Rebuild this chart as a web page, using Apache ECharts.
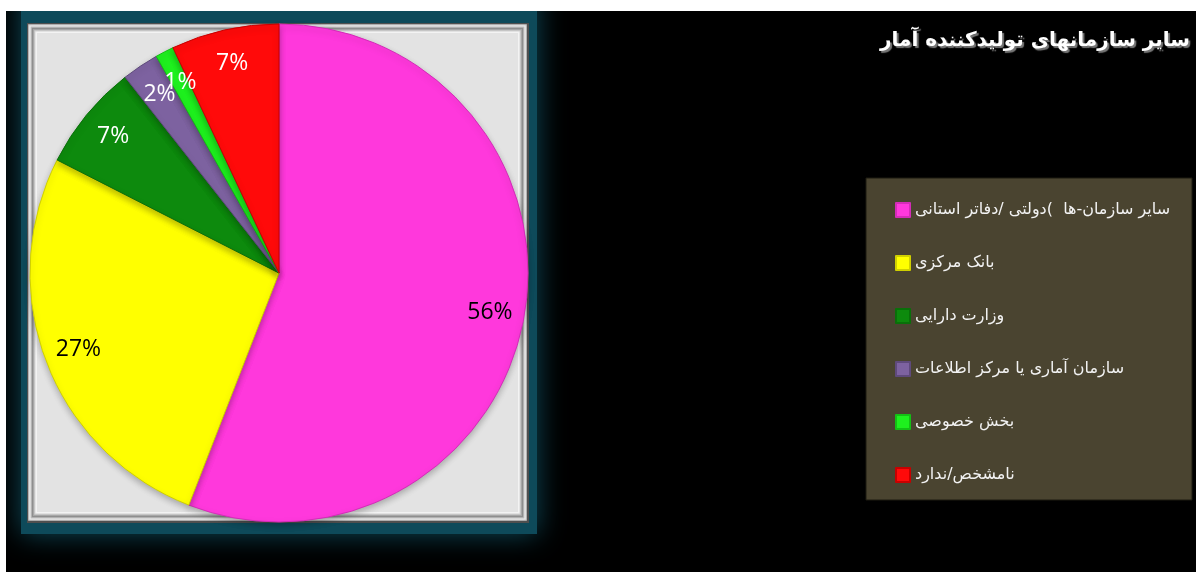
<!DOCTYPE html>
<html>
<head>
<meta charset="utf-8">
<script src="https://cdn.jsdelivr.net/npm/echarts@6/dist/echarts.min.js"></script>
<style>
  html, body { margin: 0; padding: 0; background: #fff; }
  #chart { position: absolute; left: 6px; top: 11px; width: 1190px; height: 561px; background: #000; }
</style>
</head>
<body>
<div id="chart"></div>
<script>
// داده‌ها
const categories = [
  'سایر سازمان-ها  )دولتی /دفاتر استانی',
  'بانک مرکزی ',
  'وزارت دارایی',
  'سازمان آماری یا مرکز اطلاعات',
  'بخش خصوصی',
  'نامشخص/ندارد'
];
const shares = [55.9, 26.6, 6.9, 2.4, 1.2, 7.0];
const titleText = 'سایر سازمانهای تولیدکننده آمار';

// رنگ‌ها
const sliceColors = ['#ff38dc', '#ffff00', '#0d8a0d', '#7d62a0', '#1ef01e', '#ff0a0a'];
const sliceBorders = ['#d42cb8', '#d0d000', '#097009', '#5f4a7c', '#14c014', '#c80000'];
const labelColors = ['#000', '#000', '#fff', '#fff', '#fff', '#fff'];

const chart = echarts.init(document.getElementById('chart'));

const pieCenter = [273, 262];
const pieRadius = 249;

// قاب خاکستری برجسته
const bevelColors = ['#4f4f4f', '#cdcdcd', '#eeeeee', '#bdbdbd', '#8e8e8e', '#a6a6a6', '#cfcfcf', '#f3f3f3'];
const frame = { x: 21, y: 12, w: 502, h: 500 };
const bevelRects = bevelColors.map((c, i) => ({
  type: 'rect',
  silent: true,
  z: -9,
  shape: { x: frame.x + i * 1.2, y: frame.y + i * 1.2, width: frame.w - i * 2.4 - (i === 0 ? 0 : 1), height: frame.h - i * 2.4 - (i === 0 ? 0 : 1) },
  style: { fill: c }
}));

const option = {
  backgroundColor: '#000',
  title: {
    text: titleText,
    right: 6,
    top: 20,
    padding: 0,
    textStyle: {
      fontFamily: 'DejaVu Sans',
      fontWeight: 'bold',
      fontSize: 20,
      color: '#ffffff',
      textShadowColor: '#777',
      textShadowOffsetX: 2,
      textShadowOffsetY: 2,
      textShadowBlur: 1
    }
  },
  graphic: [
    {
      type: 'rect',
      silent: true,
      z: -10,
      shape: { x: 15, y: -20, width: 516, height: 543 },
      style: { fill: '#0e4a5a', shadowBlur: 26, shadowColor: '#0e4a5a' }
    },
    ...bevelRects,
    {
      type: 'rect',
      silent: true,
      z: -9,
      shape: { x: frame.x + 10, y: frame.y + 10, width: frame.w - 21, height: frame.h - 21 },
      style: { fill: '#e3e3e3' }
    },
    {
      type: 'rect',
      silent: true,
      z: -9,
      shape: { x: 860, y: 167, width: 326, height: 322 },
      style: { fill: '#4a4430', stroke: '#1c1a10', lineWidth: 1 }
    }
  ],
  legend: {
    orient: 'vertical',
    left: 884,
    top: 184,
    itemWidth: 14,
    itemHeight: 14,
    itemGap: 33,
    icon: 'rect',
    data: categories,
    textStyle: {
      fontFamily: 'DejaVu Sans',
      fontSize: 16,
      lineHeight: 20,
      color: '#f2f2f2'
    }
  },
  series: [
    {
      name: 'main',
      type: 'pie',
      center: pieCenter,
      radius: pieRadius,
      startAngle: 90,
      clockwise: true,
      label: { show: false },
      labelLine: { show: false },
      emphasis: { scale: false },
      data: categories.map((name, i) => ({
        name: name,
        value: shares[i],
        itemStyle: {
          color: sliceColors[i],
          borderColor: sliceBorders[i],
          borderWidth: 1,
          shadowBlur: 6,
          shadowColor: 'rgba(0,0,0,0.25)',
          shadowOffsetY: 3
        }
      }))
    },
    {
      name: 'labels',
      type: 'pie',
      center: pieCenter,
      radius: [pieRadius * 0.7, pieRadius],
      startAngle: 90,
      clockwise: true,
      silent: true,
      avoidLabelOverlap: false,
      minShowLabelAngle: 0,
      itemStyle: { color: 'rgba(0,0,0,0)' },
      labelLine: { show: false },
      labelLayout: { hideOverlap: false },
      label: {
        show: true,
        position: 'inside',
        fontFamily: 'Open Sans',
        fontSize: 23,
        formatter: p => Math.round(p.percent) + '%'
      },
      data: categories.map((name, i) => ({
        name: name,
        value: shares[i],
        label: { color: labelColors[i] }
      }))
    }
  ]
};

chart.setOption(option);
</script>
</body>
</html>
